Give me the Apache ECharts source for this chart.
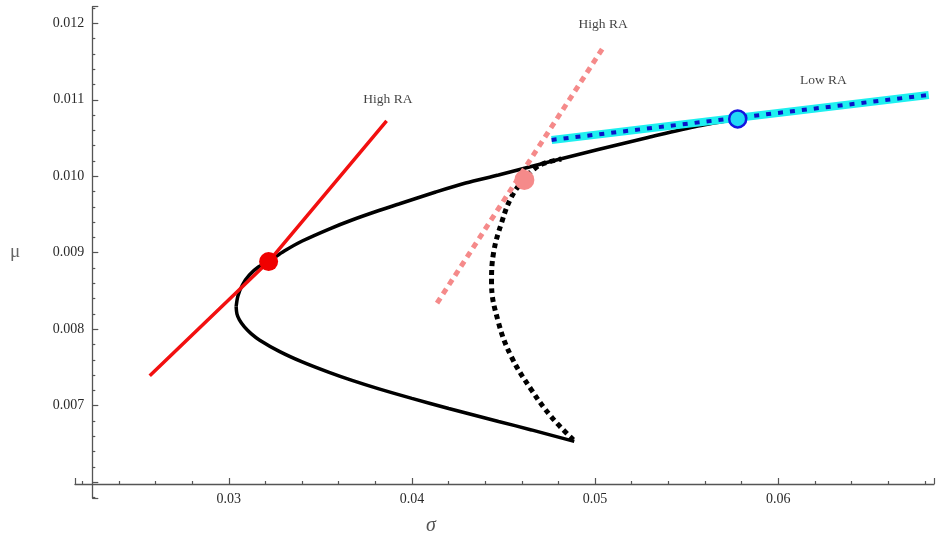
<!DOCTYPE html>
<html>
<head>
<meta charset="utf-8">
<script src="https://cdn.jsdelivr.net/npm/echarts@6/dist/echarts.min.js"></script>
<style>html,body{margin:0;padding:0;background:#fff}#c{width:937px;height:544px}</style>
</head>
<body>
<div id="c"></div>
<script>
// ---- data (sigma, mu) ----
var upperFrontier = [
  [0.030403, 0.008295], [0.030500, 0.008435], [0.030745, 0.008578], [0.031126, 0.008709],
  [0.031616, 0.008813], [0.032160, 0.008885], [0.033030, 0.009022], [0.034010, 0.009153],
  [0.035479, 0.009310], [0.036730, 0.009428], [0.038199, 0.009552], [0.039287, 0.009637],
  [0.041300, 0.009794], [0.042933, 0.009912], [0.044728, 0.010016], [0.046197, 0.010108],
  [0.047992, 0.010219], [0.050169, 0.010350], [0.052890, 0.010507], [0.055609, 0.010657],
  [0.057786, 0.010749]
];
var lowerFrontier = [
  [0.030403, 0.008295], [0.030446, 0.008200], [0.030582, 0.008122], [0.030854, 0.008030],
  [0.031235, 0.007939], [0.031670, 0.007860], [0.032758, 0.007710], [0.034010, 0.007572],
  [0.035479, 0.007435], [0.036730, 0.007330], [0.038199, 0.007219], [0.039995, 0.007095],
  [0.042008, 0.006964], [0.044728, 0.006794], [0.046524, 0.006683], [0.048864, 0.006533]
];
var constrainedFrontier = [
  [0.048809, 0.006553], [0.047612, 0.006854], [0.046524, 0.007207], [0.045435, 0.007638],
  [0.044733, 0.008082], [0.044347, 0.008605], [0.044456, 0.008997], [0.044891, 0.009390],
  [0.045435, 0.009729], [0.046088, 0.009952], [0.046741, 0.010109], [0.047285, 0.010174],
  [0.048156, 0.010226]
];
var redTangent = [[0.025686, 0.007390], [0.032176, 0.008884], [0.038618, 0.010723]];
var pinkTangent = [[0.041371, 0.008340], [0.050533, 0.011716]];
var cyanTangent = [[0.047628, 0.010475], [0.068216, 0.011063]];
var redPoint = [[0.032176, 0.008884]];
var pinkPoint = [[0.046140, 0.009952]];
var bluePoint = [[0.057786, 0.010749]];
var annotations = [
  {text: 'High RA', pos: [0.038689, 0.011000]},
  {text: 'High RA', pos: [0.050440, 0.011990]},
  {text: 'Low RA',  pos: [0.062465, 0.011259]}
];
var xRange = [0.021605, 0.068504];
var yRange = [0.005793, 0.012217];

var chart = echarts.init(document.getElementById('c'));
var serif = 'Liberation Serif';
var axisColor = '#555';
function nearMult(v, step) { var r = v / step; return Math.abs(r - Math.round(r)) < 1e-6; }

chart.setOption({
  animation: false,
  backgroundColor: '#fff',
  grid: {left: 75, right: 0, top: 6.7, bottom: 46},
  xAxis: {
    type: 'value', min: xRange[0], max: xRange[1], offset: -14,
    splitLine: {show: false},
    axisLine: {show: true, onZero: false, lineStyle: {color: axisColor, width: 1.3}},
    axisTick: {show: true, inside: true, length: 6, lineStyle: {color: axisColor, width: 1.2}},
    minorTick: {show: true, splitNumber: 5, length: 3, lineStyle: {color: axisColor, width: 1.2}},
    axisLabel: {
      color: '#2a2a2a', fontFamily: serif, fontSize: 14, margin: 8,
      formatter: function (v) { return (nearMult(v, 0.01) && v > 0.025) ? v.toFixed(2) : ''; }
    }
  },
  yAxis: {
    type: 'value', min: yRange[0], max: yRange[1], offset: -17.3,
    name: 'μ', nameLocation: 'middle', nameGap: 72, nameRotate: 0,
    nameTextStyle: {fontFamily: serif, fontSize: 19, color: '#666', padding: [12, 0, 0, 0]},
    splitLine: {show: false},
    axisLine: {show: true, onZero: false, lineStyle: {color: axisColor, width: 1.3}},
    axisTick: {show: true, inside: true, length: 6, lineStyle: {color: axisColor, width: 1.2}},
    minorTick: {show: true, splitNumber: 5, length: 3, lineStyle: {color: axisColor, width: 1.2}},
    axisLabel: {
      color: '#2a2a2a', fontFamily: serif, fontSize: 14, margin: 8,
      formatter: function (v) { return (nearMult(v, 0.001) && v > 0.0065) ? v.toFixed(3) : ''; }
    }
  },
  graphic: [{
    type: 'text', left: 426, top: 516,
    style: {text: 'σ', font: 'italic 20px "Liberation Serif"', fill: '#555'}
  }],
  series: [
    {type: 'line', data: constrainedFrontier, smooth: 0.4, symbol: 'none', z: 2,
     lineStyle: {color: '#000', width: 5, type: [5, 4], cap: 'butt'}},
    {type: 'line', data: upperFrontier, smooth: 0.3, symbol: 'none', z: 3,
     lineStyle: {color: '#000', width: 3.5}},
    {type: 'line', data: lowerFrontier, smooth: 0.3, symbol: 'none', z: 3,
     lineStyle: {color: '#000', width: 3.5}},
    {type: 'line', data: redTangent, symbol: 'none', z: 4,
     lineStyle: {color: '#f21010', width: 3.5}},
    {type: 'line', data: pinkTangent, symbol: 'none', z: 4,
     lineStyle: {color: '#f58a8a', width: 5, type: [6, 5], cap: 'butt'}},
    {type: 'line', data: cyanTangent, symbol: 'none', z: 4,
     lineStyle: {color: '#1ef0f0', width: 8}},
    {type: 'line', data: cyanTangent, symbol: 'none', z: 5,
     lineStyle: {color: '#0a14c8', width: 4, type: [5, 7], cap: 'butt'}},
    {type: 'scatter', data: redPoint, symbolSize: 19, z: 6,
     itemStyle: {color: '#f00000', opacity: 1}},
    {type: 'scatter', data: pinkPoint, symbolSize: 20, z: 6,
     itemStyle: {color: '#f58a8a', opacity: 1}},
    {type: 'scatter', data: bluePoint, symbolSize: 17, z: 6,
     itemStyle: {color: '#22d8f6', borderColor: '#1414e0', borderWidth: 2.5, opacity: 1}},
    {type: 'scatter', symbolSize: 0, z: 7, silent: true,
     data: annotations.map(function (a) { return {value: a.pos, name: a.text}; }),
     label: {show: true, position: 'inside', formatter: '{b}',
             fontFamily: serif, fontSize: 13.5, color: '#111'}}
  ]
});
</script>
</body>
</html>
